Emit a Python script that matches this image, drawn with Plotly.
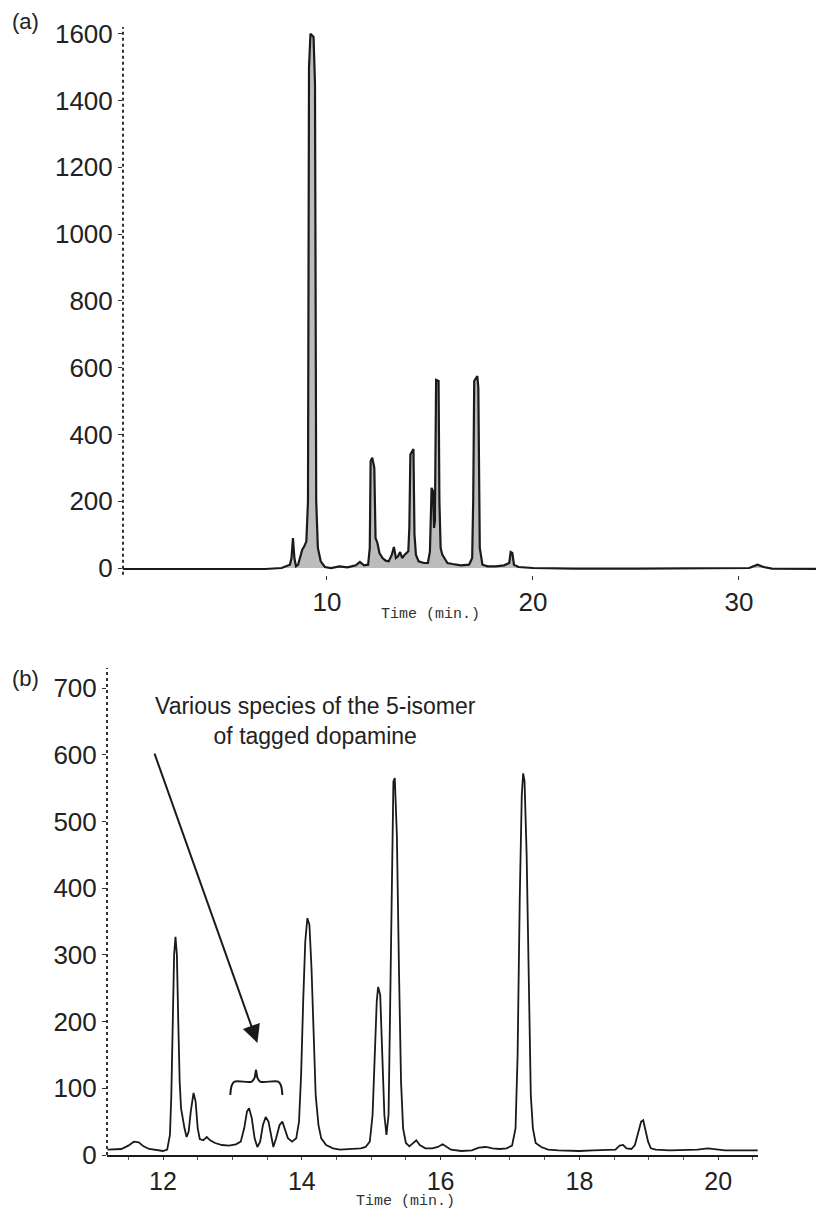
import plotly.graph_objects as go

# ---------------- data ----------------
# Panel (a): full chromatogram
time_a = [0.1, 2, 4, 6, 7, 7.8, 8.0, 8.2, 8.28, 8.35, 8.42, 8.5, 8.6, 8.7, 8.8, 8.9, 9.0,
          9.08, 9.13, 9.2, 9.35, 9.42, 9.48, 9.56, 9.7, 9.9, 10.2, 10.6, 11.0, 11.4, 11.6,
          11.8, 12.0, 12.08, 12.12, 12.2, 12.3, 12.36, 12.45, 12.55, 12.7, 12.85, 13.0,
          13.15, 13.25, 13.35, 13.45, 13.55, 13.65, 13.75, 13.85, 13.95, 14.0, 14.05,
          14.2, 14.25, 14.32, 14.45, 14.7, 14.9, 15.0, 15.04, 15.08, 15.15, 15.2, 15.24,
          15.28, 15.3, 15.42, 15.46, 15.52, 15.6, 15.7, 15.85, 16.1, 16.5, 16.9, 17.05,
          17.1, 17.15, 17.3, 17.35, 17.42, 17.55, 17.8, 18.2, 18.6, 18.85, 18.92, 19.0,
          19.08, 19.3, 20, 22, 25, 28, 30.5, 30.9, 31.2, 31.6, 34.13]
signal_a = [-3, -3, -4, -3, -3, 0, 5, 10, 30, 90, 30, 5, 10, 30, 55, 65, 80,
            200, 1500, 1600, 1590, 1450, 200, 60, 20, 3, 0, 5, 2, 8, 18,
            8, 10, 60, 320, 330, 300, 90, 75, 45, 30, 22, 20,
            40, 63, 30, 35, 48, 30, 38, 45, 50, 120, 340,
            356, 100, 40, 20, 15, 15, 50, 200, 240, 230, 120, 140,
            540, 563, 560, 200, 60, 40, 30, 15, 12, 8, 10, 30,
            200, 560, 575, 540, 60, 10, 5, 5, 8, 15, 48, 45,
            10, 3, 0, -2, -2, -2, 0, 10, 3, -2, -3]

# Panel (b): expanded region 11.2-20.6 min
time_b = [11.20, 11.30, 11.40, 11.50, 11.58, 11.65, 11.72, 11.80, 11.90, 12.00, 12.06,
          12.10, 12.12, 12.14, 12.16, 12.18, 12.20, 12.22, 12.24, 12.26, 12.28, 12.31,
          12.34, 12.37, 12.40, 12.44, 12.47, 12.50, 12.53, 12.58, 12.63, 12.68, 12.75,
          12.85, 12.95, 13.05, 13.12, 13.17, 13.21, 13.24, 13.28, 13.32, 13.36, 13.40,
          13.44, 13.48, 13.52, 13.56, 13.59, 13.63, 13.68, 13.72, 13.76, 13.80, 13.86,
          13.92, 13.96, 13.99, 14.02, 14.05, 14.08, 14.11, 14.14, 14.17, 14.20, 14.24,
          14.28, 14.35, 14.45, 14.55, 14.65, 14.75, 14.85, 14.92, 14.98, 15.02, 15.05,
          15.08, 15.10, 15.13, 15.16, 15.19, 15.22, 15.25, 15.27, 15.30, 15.32, 15.34,
          15.37, 15.40, 15.43, 15.46, 15.50, 15.55, 15.60, 15.65, 15.70, 15.78, 15.88,
          15.96, 16.03, 16.08, 16.15, 16.30, 16.45, 16.55, 16.65, 16.75, 16.85, 16.95,
          17.03, 17.08, 17.11, 17.14, 17.17, 17.19, 17.21, 17.24, 17.27, 17.30, 17.33,
          17.37, 17.45, 17.55, 17.70, 17.85, 18.00, 18.20, 18.40, 18.52, 18.58, 18.63,
          18.68, 18.75, 18.80, 18.85, 18.89, 18.92, 18.95, 18.99, 19.03, 19.10, 19.30,
          19.50, 19.70, 19.85, 19.95, 20.10, 20.30, 20.57]
signal_b = [8, 8, 9, 14, 20, 19, 13, 9, 7, 6, 8,
            30, 90, 200, 300, 327, 300, 200, 110, 70, 55, 40,
            27, 35, 65, 93, 80, 40, 24, 22, 27, 22, 18,
            15, 14, 16, 20, 40, 65, 70, 55, 25, 12, 20,
            45, 57, 50, 25, 12, 25, 45, 50, 38, 25, 20,
            25, 50, 120, 230, 320, 355, 345, 280, 170, 90, 45,
            25, 15, 10, 8, 9, 10, 10, 12, 20, 60, 150,
            230, 252, 240, 150, 60, 30, 60, 200, 450, 560, 565,
            480, 280, 110, 40, 18, 13, 18, 22, 15, 10, 10,
            12, 16, 13, 8, 6, 7, 11, 12, 10, 9, 10,
            14, 40, 150, 380, 540, 572, 560, 450, 250, 90, 40,
            18, 12, 8, 7, 6, 6, 7, 7, 8, 14, 15,
            10, 9, 15, 35, 50, 52, 40, 20, 10, 8, 7,
            7, 8, 10, 9, 7, 7, 7]

# brace marking the 5-isomer species
brace_x = [12.97, 12.99, 13.03, 13.28, 13.32, 13.34, 13.36, 13.40, 13.66, 13.70, 13.72]
brace_y = [90, 104, 110, 110, 116, 127, 116, 110, 110, 104, 90]

# arrow (tail -> head), data coordinates of panel (b)
arrow_tail = (11.87, 604)
arrow_head = (13.36, 168)

yticks_a = [0, 200, 400, 600, 800, 1000, 1200, 1400, 1600]
xticks_a = [10, 20, 30]
yticks_b = [0, 100, 200, 300, 400, 500, 600, 700]
xticks_b = [12, 14, 16, 18, 20]

# ---------------- figure ----------------
# page is 824x1209; the html body adds an 8px margin, so the figure is 8px smaller
OFF = 8
W, H = 824 - OFF, 1209 - OFF
LINE = "#1a1a1a"
FONT = "Liberation Sans, Arial, sans-serif"
TICKFONT = dict(family=FONT, size=26, color="#222")

fig = go.Figure()
fig.add_trace(go.Scatter(x=time_a, y=signal_a, mode="lines", xaxis="x", yaxis="y",
                         line=dict(color=LINE, width=2.2), fill="tozeroy",
                         fillcolor="rgba(80,80,80,0.38)", hoverinfo="skip"))
fig.add_trace(go.Scatter(x=time_b, y=signal_b, mode="lines", xaxis="x2", yaxis="y2",
                         line=dict(color=LINE, width=1.8), hoverinfo="skip"))
fig.add_trace(go.Scatter(x=brace_x, y=brace_y, mode="lines", xaxis="x2", yaxis="y2",
                         line=dict(color=LINE, width=2, shape="spline"), hoverinfo="skip"))

def px_x(p):
    return (p - OFF) / W

def px_y(p):
    return 1 - (p - OFF) / H

fig.update_layout(
    width=W, height=H,
    margin=dict(l=0, r=0, t=0, b=0, autoexpand=False),
    paper_bgcolor="white", plot_bgcolor="white",
    showlegend=False,
    xaxis=dict(domain=[px_x(123), 1.0], range=[0.1, 34.13], anchor="y", automargin=False,
               tickvals=xticks_a, ticks="outside", ticklen=4, tickcolor="#333",
               showgrid=False, zeroline=False, showline=False, tickfont=TICKFONT),
    yaxis=dict(domain=[px_y(574.7), px_y(27)], range=[-20, 1620], anchor="x", automargin=False,
               tickvals=yticks_a, ticks="outside", ticklen=4, tickcolor="#333",
               showgrid=False, zeroline=False, showline=False, tickfont=TICKFONT),
    xaxis2=dict(domain=[px_x(107), px_x(758)], range=[11.193, 20.574], anchor="y2",
                automargin=False,
                tickvals=xticks_b, ticks="outside", ticklen=3, tickcolor="#333",
                minor=dict(dtick=0.5, ticks="outside", ticklen=3, tickcolor="#555"),
                showgrid=False, zeroline=False, showline=True, linecolor=LINE,
                linewidth=2, tickfont=dict(family=FONT, size=25, color="#222")),
    yaxis2=dict(domain=[px_y(1155), px_y(668)], range=[0, 730], anchor="x2", automargin=False,
                tickvals=yticks_b, ticks="outside", ticklen=4, tickcolor="#333",
                showgrid=False, zeroline=False, showline=False, tickfont=TICKFONT),
)

# dotted y-axis lines (scan look)
for xr, yr in (("x domain", "y domain"), ("x2 domain", "y2 domain")):
    fig.add_shape(type="line", xref=xr, yref=yr, x0=0, x1=0, y0=0, y1=1,
                  line=dict(color="#333", width=2, dash="dot"))

# panel labels
fig.add_annotation(text="(a)", xref="paper", yref="paper", x=px_x(10), y=px_y(22),
                   xanchor="left", yanchor="middle", showarrow=False,
                   font=dict(family=FONT, size=22, color="#222"))
fig.add_annotation(text="(b)", xref="paper", yref="paper", x=px_x(10), y=px_y(678),
                   xanchor="left", yanchor="middle", showarrow=False,
                   font=dict(family=FONT, size=22, color="#222"))

# axis titles (typewriter style)
MONO = dict(family="Liberation Mono, DejaVu Sans Mono, monospace", size=15, color="#333")
fig.add_annotation(text="Time (min.)", xref="paper", yref="paper", x=px_x(430), y=px_y(614),
                   xanchor="center", yanchor="middle", showarrow=False, font=MONO)
fig.add_annotation(text="Time (min.)", xref="paper", yref="paper", x=px_x(405), y=px_y(1201),
                   xanchor="center", yanchor="middle", showarrow=False, font=MONO)

# annotation text
fig.add_annotation(text="Various species of the 5-isomer<br>of tagged dopamine",
                   xref="paper", yref="paper", x=px_x(315), y=px_y(721),
                   xanchor="center", yanchor="middle", showarrow=False, align="center",
                   font=dict(family=FONT, size=23, color="#222"))

# arrow
fig.add_annotation(x=arrow_head[0], y=arrow_head[1], ax=arrow_tail[0], ay=arrow_tail[1],
                   xref="x2", yref="y2", axref="x2", ayref="y2", text="",
                   showarrow=True, arrowhead=2, arrowsize=1.8, arrowwidth=2,
                   arrowcolor=LINE)

fig.write_html("out.html")
